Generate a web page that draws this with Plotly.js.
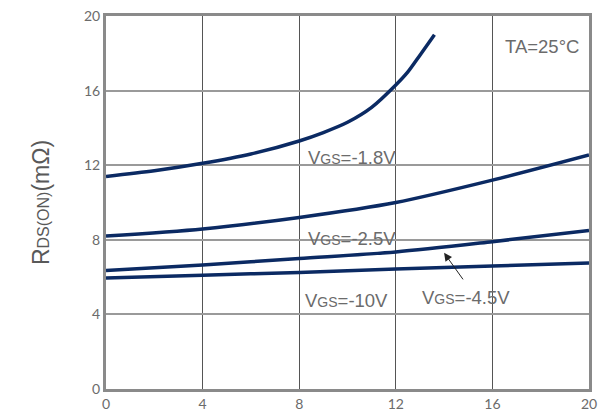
<!DOCTYPE html>
<html>
<head>
<meta charset="utf-8">
<script src="https://cdn.plot.ly/plotly-3.0.1.min.js"></script>
<style>html,body{margin:0;padding:0;background:#fff}#chart{width:609px;height:420px}</style>
</head>
<body>
<div id="chart"></div>
<script>
// Drain current (A) vs on-resistance (mΩ) for several gate voltages
const idVgs18 = [0, 2, 4, 6, 8, 9, 10, 11, 12, 12.5, 13, 13.6];
const rVgs18  = [11.4, 11.7, 12.1, 12.6, 13.3, 13.75, 14.3, 15.1, 16.3, 17.0, 17.9, 19.0];

const idVgs25 = [0, 4, 8, 12, 16, 20];
const rVgs25  = [8.2, 8.58, 9.2, 10.0, 11.2, 12.55];

const idVgs45 = [0, 4, 8, 12, 16, 20];
const rVgs45  = [6.35, 6.65, 7.0, 7.35, 7.9, 8.5];

const idVgs10 = [0, 4, 8, 12, 16, 20];
const rVgs10  = [5.95, 6.1, 6.25, 6.43, 6.6, 6.75];

const xTicks = [0, 4, 8, 12, 16, 20];
const yTicks = [0, 4, 8, 12, 16, 20];

const curveColor = '#0b2a63';
const textColor = '#6b6b6b';
const labelFont = {family: 'Liberation Sans, Arial, sans-serif', size: 18.5, color: textColor};
const sub = s => '<span style="font-size:14px">' + s + '</span>';

function curve(x, y) {
  return {x: x, y: y, type: 'scatter', mode: 'lines',
    line: {color: curveColor, width: 3.5, shape: 'spline', smoothing: 0.8},
    hoverinfo: 'skip', showlegend: false};
}

const data = [
  curve(idVgs18, rVgs18),
  curve(idVgs25, rVgs25),
  curve(idVgs45, rVgs45),
  curve(idVgs10, rVgs10)
];

const layout = {
  width: 609, height: 420,
  margin: {l: 106, r: 20, t: 16, b: 31},
  paper_bgcolor: '#fff', plot_bgcolor: '#fff',
  showlegend: false,
  xaxis: {
    range: [0, 20], tickvals: xTicks, ticktext: xTicks.map(String),
    showgrid: true, gridcolor: '#555', gridwidth: 1,
    showline: true, linecolor: '#8a8a8a', linewidth: 3, mirror: true,
    zeroline: false, ticks: '', ticklen: 0,
    tickfont: {family: 'Lato, Carlito, sans-serif', size: 14, color: textColor}
  },
  yaxis: {
    range: [0, 20], tickvals: yTicks, ticktext: yTicks.map(String),
    showgrid: true, gridcolor: '#9a9a9a', gridwidth: 2,
    showline: true, linecolor: '#8a8a8a', linewidth: 3, mirror: true,
    zeroline: false, ticks: '', ticklen: 0,
    tickfont: {family: 'Lato, Carlito, sans-serif', size: 14, color: textColor},
    title: {
      text: 'R<span style="font-size:16px">DS(ON)</span>(mΩ)',
      font: {family: 'Liberation Sans, Arial, sans-serif', size: 23, color: '#595959'},
      standoff: 28
    }
  },
  annotations: [
    {x: 10.2, y: 12.4, text: 'V' + sub('GS') + '=-1.8V', showarrow: false, font: labelFont},
    {x: 10.2, y: 8.05, text: 'V' + sub('GS') + '=-2.5V', showarrow: false, font: labelFont},
    {x: 9.95, y: 4.75, text: 'V' + sub('GS') + '=-10V', showarrow: false, font: labelFont},
    {x: 14.9, y: 4.9, text: 'V' + sub('GS') + '=-4.5V', showarrow: false, font: labelFont},
    {x: 14.0, y: 7.3, text: '', showarrow: true, arrowhead: 2, arrowsize: 1.6,
     arrowwidth: 1, arrowcolor: '#222', ax: 20, ay: 28},
    {x: 18.05, y: 18.35, text: 'TA=25°C', showarrow: false, font: labelFont}
  ]
};

Plotly.newPlot('chart', data, layout, {displayModeBar: false, staticPlot: true});
</script>
</body>
</html>
